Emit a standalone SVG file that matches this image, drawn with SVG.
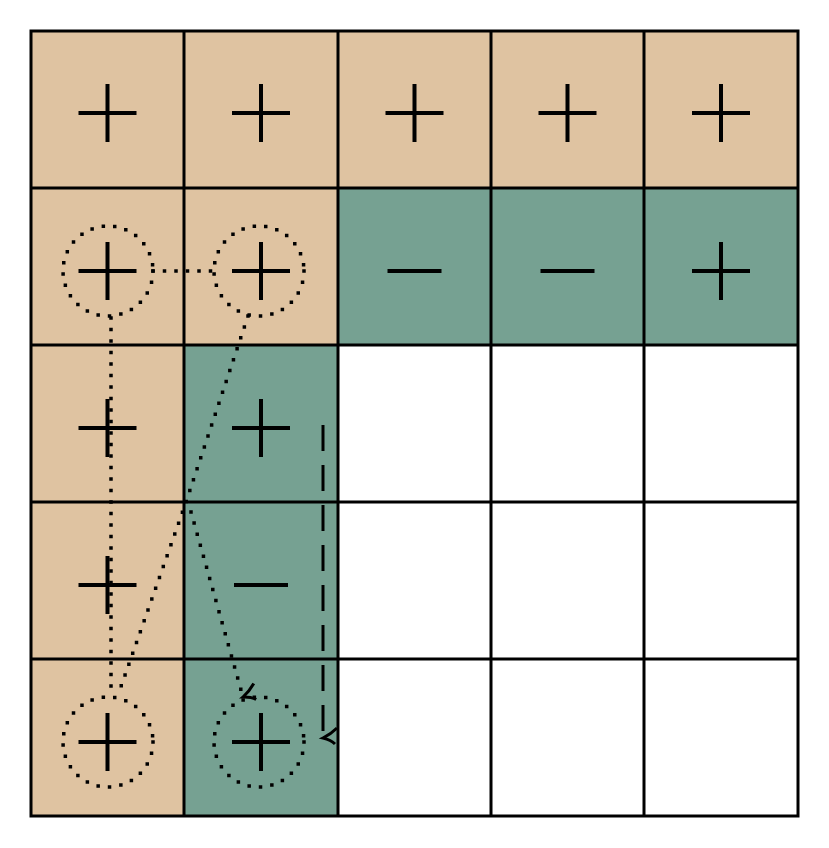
<svg xmlns="http://www.w3.org/2000/svg" width="829" height="848" viewBox="0 0 829 848">
<style>
.t{fill:#dfc3a1}.g{fill:#76a192}.w{fill:#fff}
.sym{stroke:#000;stroke-width:4;fill:none}
.grid{stroke:#000;stroke-width:3;fill:none}
.dot{stroke:#000;stroke-width:3.5;fill:none;stroke-dasharray:0 11.5;stroke-linecap:square}
.dash{stroke:#000;stroke-width:3;fill:none;stroke-dasharray:26 14}
</style>
<defs>
<marker id="v" markerWidth="12" markerHeight="12" refX="6" refY="6" orient="auto" markerUnits="userSpaceOnUse" viewBox="0 0 12 12" overflow="visible">
<path d="M-4,-8 Q2,-2 6,6 Q8,-2 12,-6" stroke="#000" stroke-width="3" fill="none"/>
</marker>
<g id="p"><path d="M-29,0H29M0,-29V29" class="sym"/></g>
<g id="m"><path d="M-27,0H27" class="sym"/></g>
</defs>
<rect width="829" height="848" fill="#fff"/>
<g id="cells">
<rect class="t" x="31" y="31" width="767" height="157"/>
<rect class="t" x="31" y="188" width="307" height="157"/>
<rect class="g" x="338" y="188" width="460" height="157"/>
<rect class="t" x="31" y="345" width="153" height="471"/>
<rect class="g" x="184" y="345" width="154" height="471"/>
</g>
<g id="symbols">
<use href="#p" x="107.5" y="113"/><use href="#p" x="261" y="113"/><use href="#p" x="414.5" y="113"/><use href="#p" x="567.5" y="113"/><use href="#p" x="721" y="113"/>
<use href="#p" x="107.5" y="271"/><use href="#p" x="261" y="271"/><use href="#m" x="414.5" y="271"/><use href="#m" x="567.5" y="271"/><use href="#p" x="721" y="271"/>
<use href="#p" x="107.5" y="428"/><use href="#p" x="261" y="428"/>
<use href="#p" x="107.5" y="585"/><use href="#m" x="261" y="585"/>
<use href="#p" x="107.5" y="742"/><use href="#p" x="261" y="742"/>
</g>
<g id="grid">
<rect class="grid" x="31" y="31" width="767" height="785"/>
<path class="grid" d="M184,31V816M338,31V816M491,31V816M644,31V816M31,188H798M31,345H798M31,502H798M31,659H798"/>
</g>
<g id="connectors">
<circle class="dot" cx="108" cy="271" r="45"/>
<circle class="dot" cx="259" cy="271" r="45"/>
<circle class="dot" cx="108" cy="742" r="45"/>
<circle class="dot" cx="259" cy="742" r="45"/>
<path class="dot" d="M153,271H214"/>
<path class="dot" d="M111,318V692"/>
<path class="dot" d="M248,316L185,505L118,695"/>
<path class="dot" d="M191,512L243,697" marker-end="url(#v)"/>
<path class="dash" d="M323,425V738" marker-end="url(#v)"/>
</g>
</svg>
